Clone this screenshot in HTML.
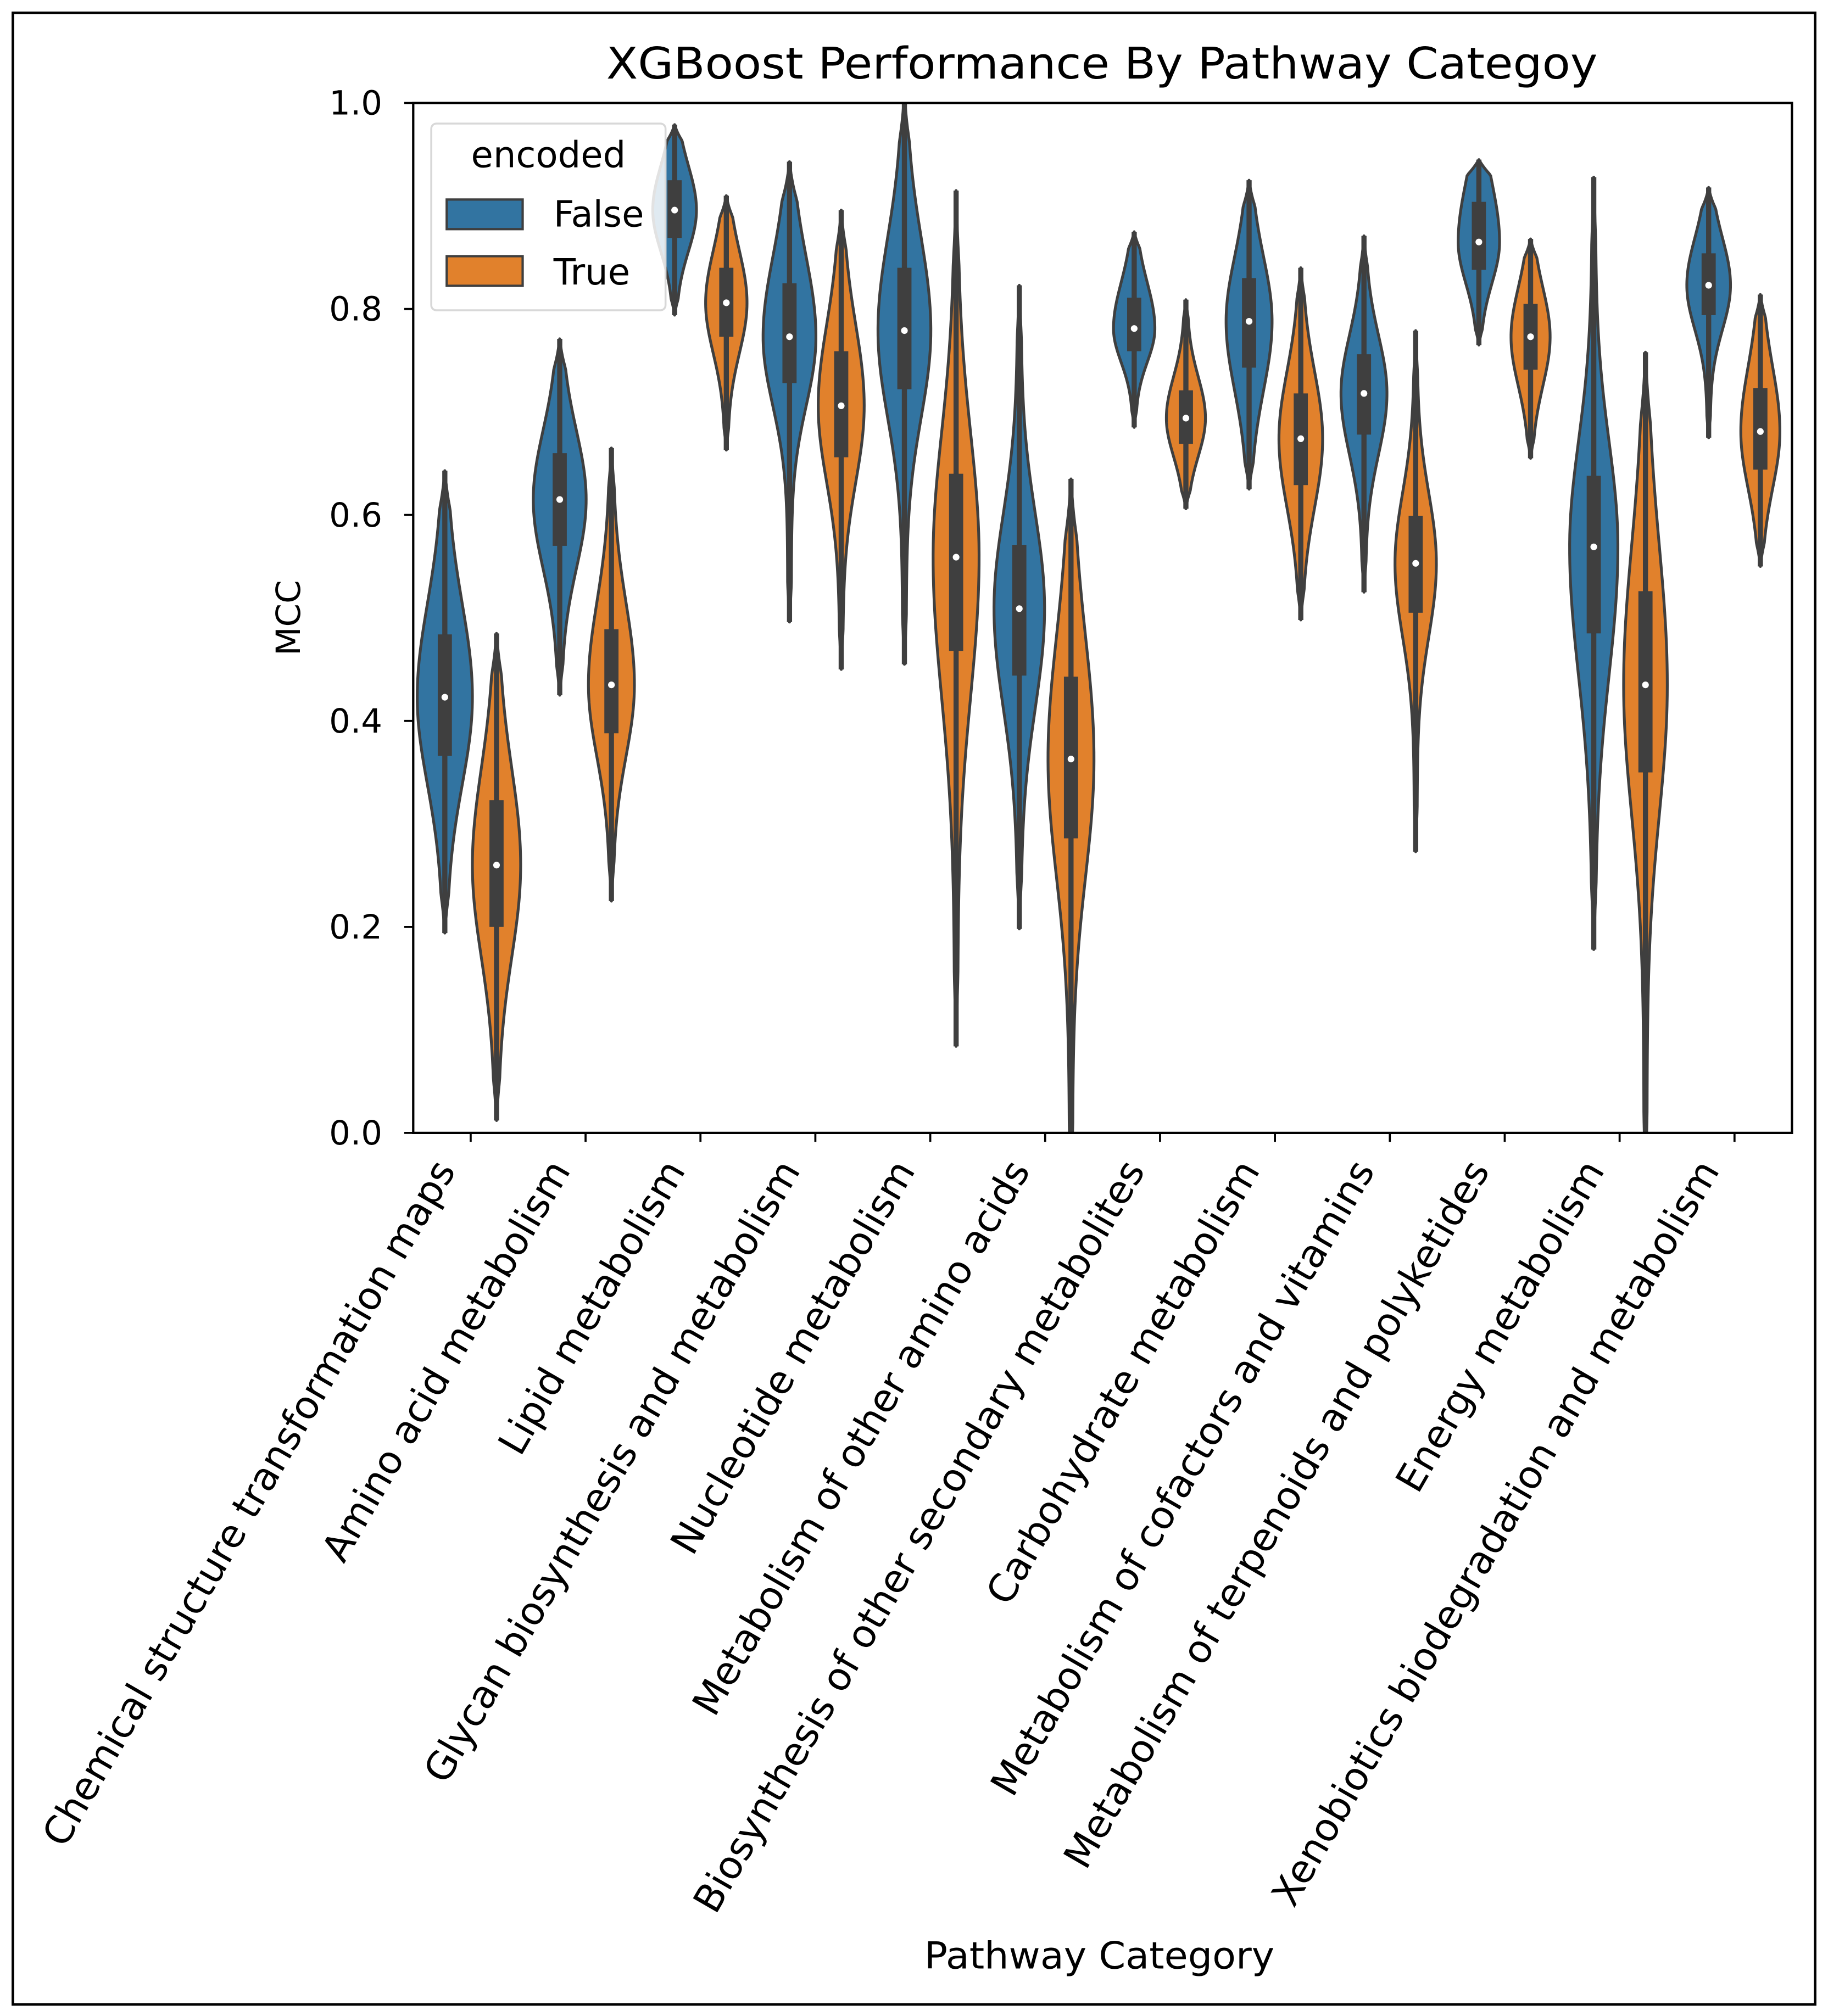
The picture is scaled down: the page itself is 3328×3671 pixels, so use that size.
<!DOCTYPE html>
<html><head><meta charset="utf-8"><style>
html,body{margin:0;padding:0;background:#fff;}
svg{display:block;font-family:"DejaVu Sans","Liberation Sans",sans-serif;}
</style></head><body>
<svg id="chart" width="3328" height="3671" viewBox="0 0 1420 1566" preserveAspectRatio="none" xmlns="http://www.w3.org/2000/svg">
<rect x="10" y="10" width="1400" height="1547" fill="#fff" stroke="#000" stroke-width="2"/>
<text x="856" y="61" font-size="34" text-anchor="middle" textLength="770" lengthAdjust="spacingAndGlyphs" fill="#000">XGBoost Performance By Pathway Categoy</text>
<defs><clipPath id="plotclip"><rect x="321" y="80" width="1071" height="800"/></clipPath></defs>
<g id="violins" clip-path="url(#plotclip)"></g>
<rect x="321" y="80" width="1071" height="800" fill="none" stroke="#000" stroke-width="1.8"/>
<g id="yaxis"></g>
<g id="xaxis"></g>
<text transform="translate(233,480) rotate(-90)" font-size="26" text-anchor="middle" fill="#000">MCC</text>
<text x="854" y="1529" font-size="29" text-anchor="middle" textLength="272" lengthAdjust="spacingAndGlyphs" fill="#000">Pathway Category</text>
<g>
<rect x="335" y="96" width="182" height="145" rx="4" fill="#fff" fill-opacity="0.85" stroke="#d8d8d8" stroke-width="1.5"/>
<text x="426" y="130" font-size="28" text-anchor="middle" fill="#000">encoded</text>
<rect x="347" y="155" width="59" height="23" fill="#3274a1" stroke="#3f3f3f" stroke-width="1.8"/>
<text x="430" y="176" font-size="28" fill="#000">False</text>
<rect x="347" y="199" width="59" height="23" fill="#e1812c" stroke="#3f3f3f" stroke-width="1.8"/>
<text x="430" y="221" font-size="28" fill="#000">True</text>
</g>
</svg>
<script>
const categories = ["Chemical structure transformation maps","Amino acid metabolism","Lipid metabolism","Glycan biosynthesis and metabolism","Nucleotide metabolism","Metabolism of other amino acids","Biosynthesis of other secondary metabolites","Carbohydrate metabolism","Metabolism of cofactors and vitamins","Metabolism of terpenoids and polyketides","Energy metabolism","Xenobiotics biodegradation and metabolism"];
const yTicks = [0.0,0.2,0.4,0.6,0.8,1.0];
const yTickLabels = ["0.0","0.2","0.4","0.6","0.8","1.0"];
// encoded = False
const falseMin = [0.194,0.425,0.794,0.496,0.455,0.198,0.685,0.625,0.525,0.765,0.178,0.675];
const falseQ1  = [0.366,0.570,0.869,0.728,0.722,0.444,0.759,0.743,0.678,0.838,0.485,0.794];
const falseMed = [0.423,0.615,0.896,0.773,0.779,0.509,0.781,0.788,0.718,0.865,0.569,0.823];
const falseQ3  = [0.484,0.660,0.925,0.825,0.840,0.571,0.811,0.830,0.756,0.904,0.638,0.854];
const falseMax = [0.643,0.771,0.979,0.943,1.010,0.823,0.875,0.925,0.871,0.945,0.928,0.918];
const falseWidth = [0.24,0.23,0.19,0.23,0.23,0.22,0.18,0.20,0.20,0.18,0.21,0.19];
// encoded = True
const trueMin = [0.012,0.225,0.663,0.450,0.084,-0.05,0.606,0.498,0.273,0.655,-0.05,0.550];
const trueQ1  = [0.200,0.388,0.773,0.656,0.468,0.286,0.669,0.629,0.505,0.741,0.350,0.644];
const trueMed = [0.260,0.435,0.806,0.706,0.559,0.363,0.694,0.674,0.553,0.773,0.435,0.681];
const trueQ3  = [0.323,0.489,0.840,0.759,0.640,0.443,0.721,0.718,0.599,0.805,0.526,0.723];
const trueMax = [0.485,0.665,0.910,0.896,0.915,0.635,0.809,0.840,0.779,0.868,0.758,0.814];
const trueWidth = [0.21,0.20,0.18,0.20,0.20,0.20,0.17,0.19,0.18,0.17,0.19,0.17];

const NS="http://www.w3.org/2000/svg";
const L=321,R=1392,T=80,B=880;
const band=(R-L)/categories.length;
function xScale(i){return L+band*(i+0.5);}
function yScale(v){return B-(v-0)/(1-0)*(B-T);}
function mk(tag,attrs,parent){const e=document.createElementNS(NS,tag);for(const k in attrs)e.setAttribute(k,attrs[k]);parent.appendChild(e);return e;}

const vg=document.getElementById('violins');
function drawViolin(cx,mn,q1,md,q3,mx,w,fill,name){
  const hw=w*band;
  const sUp=Math.max((q3-md)/0.674,0.01), sDn=Math.max((md-q1)/0.674,0.01);
  const n=80, pts=[];
  for(let k=0;k<=n;k++){
    const v=mn+(mx-mn)*k/n;
    const s=v>=md?sUp:sDn;
    const g=Math.exp(-0.5*Math.pow((v-md)/s,2));
    const edge=Math.min(k,n-k)/n;
    const taper=Math.min(1,edge*12);
    const d=hw*(0.93*g+0.07)*taper;
    pts.push([v,d]);
  }
  let dstr='';
  pts.forEach((p,i)=>{dstr+=(i?'L':'M')+(cx+p[1]).toFixed(2)+','+yScale(p[0]).toFixed(2);});
  for(let i=pts.length-1;i>=0;i--){const p=pts[i];dstr+='L'+(cx-p[1]).toFixed(2)+','+yScale(p[0]).toFixed(2);}
  dstr+='Z';
  const g=mk('g',{},vg);
  
  
  const body=mk('path',{d:dstr,fill:fill,stroke:'#3f3f3f','stroke-width':2.2,'stroke-linejoin':'round'},g);
  
  
  const wh=mk('line',{x1:cx,x2:cx,y1:yScale(mn),y2:yScale(mx),stroke:'#3f3f3f','stroke-width':4},g);
  
  
  const bx=mk('rect',{x:cx-5.5,width:11,y:yScale(q3),height:yScale(q1)-yScale(q3),fill:'#3f3f3f'},g);
  
  
  const dot=mk('circle',{cx:cx,cy:yScale(md),r:2.6,fill:'#fff'},g);
  
  
}
categories.forEach((c,i)=>{
  const cx=xScale(i);
  drawViolin(cx-0.225*band,falseMin[i],falseQ1[i],falseMed[i],falseQ3[i],falseMax[i],falseWidth[i],'#3274a1','violin-false-'+i);
  drawViolin(cx+0.225*band,trueMin[i],trueQ1[i],trueMed[i],trueQ3[i],trueMax[i],trueWidth[i],'#e1812c','violin-true-'+i);
});

const ya=document.getElementById('yaxis');
yTicks.forEach((t,i)=>{
  const y=yScale(t);
  const tk=mk('line',{x1:L-7,x2:L,y1:y,y2:y,stroke:'#000','stroke-width':1.6},ya);
  
  
  const tx=mk('text',{x:L-24,y:y+9,'font-size':26,'text-anchor':'end',fill:'#000'},ya);
  
  
  tx.textContent=yTickLabels[i];
});
const xa=document.getElementById('xaxis');
categories.forEach((c,i)=>{
  const x=xScale(i);
  const tk=mk('line',{x1:x,x2:x,y1:B,y2:B+7,stroke:'#000','stroke-width':1.6},xa);
  
  
  const tx=mk('text',{transform:'translate('+(x-20)+','+(B+24)+') rotate(-60)','font-size':30,'text-anchor':'end','dominant-baseline':'central',fill:'#000'},xa);
  
  
  tx.textContent=c;
});
</script>
</body></html>
